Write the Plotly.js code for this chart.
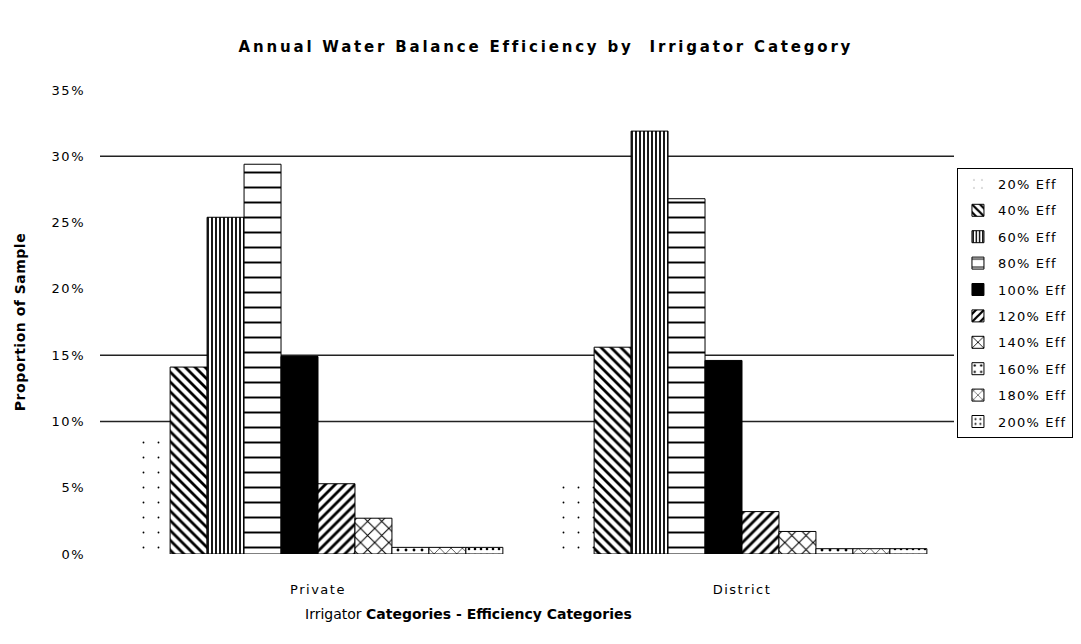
<!DOCTYPE html>
<html>
<head>
<meta charset="utf-8">
<script src="https://cdn.plot.ly/plotly-3.0.1.min.js"></script>
<style>
html,body{margin:0;padding:0;background:#fff;}
#chart{width:1081px;height:644px;}
.xtick text, .ytick text {letter-spacing:1.5px;}
.legendtext {letter-spacing:1.2px;}
.gtitle {letter-spacing:2.8px;}
.ytitle {letter-spacing:0.5px;}
</style>
</head>
<body>
<div id="chart"></div>
<script>
const categories = ["Private", "District"];
const seriesNames = ["20% Eff", "40% Eff", "60% Eff", "80% Eff", "100% Eff", "120% Eff", "140% Eff", "160% Eff", "180% Eff", "200% Eff"];
const eff20  = [0.092, 0.054];
const eff40  = [0.141, 0.156];
const eff60  = [0.254, 0.319];
const eff80  = [0.294, 0.268];
const eff100 = [0.149, 0.146];
const eff120 = [0.053, 0.032];
const eff140 = [0.027, 0.017];
const eff160 = [0.005, 0.004];
const eff180 = [0.005, 0.004];
const eff200 = [0.005, 0.004];
const seriesValues = [eff20, eff40, eff60, eff80, eff100, eff120, eff140, eff160, eff180, eff200];
const yTickVals = [0, 0.05, 0.10, 0.15, 0.20, 0.25, 0.30, 0.35];
const yTickText = ["0%", "5%", "10%", "15%", "20%", "25%", "30%", "35%"];
const gridValues = [0.10, 0.15, 0.30];

const styles = [
  {pattern: {shape: ".", size: 15, solidity: 0.012, fgcolor: "#000", bgcolor: "#fff"}, lw: 0},
  {pattern: {shape: "\\", size: 7, solidity: 0.4, fgcolor: "#000", bgcolor: "#fff"}, lw: 1},
  {pattern: {shape: "|", size: 4, solidity: 0.45, fgcolor: "#000", bgcolor: "#fff"}, lw: 1},
  {pattern: {shape: "-", size: 15, solidity: 0.13, fgcolor: "#000", bgcolor: "#fff"}, lw: 1},
  {pattern: null, color: "#000", lw: 1},
  {pattern: {shape: "/", size: 7, solidity: 0.4, fgcolor: "#000", bgcolor: "#fff"}, lw: 1},
  {pattern: {shape: "x", size: 10, solidity: 0.2, fgcolor: "#000", bgcolor: "#fff"}, lw: 1},
  {pattern: {shape: ".", size: 8, solidity: 0.1, fgcolor: "#000", bgcolor: "#fff"}, lw: 1},
  {pattern: {shape: "x", size: 8, solidity: 0.15, fgcolor: "#000", bgcolor: "#fff"}, lw: 1},
  {pattern: {shape: ".", size: 6, solidity: 0.15, fgcolor: "#000", bgcolor: "#fff"}, lw: 1}
];

const traces = seriesNames.map((name, i) => {
  const s = styles[i];
  const marker = {color: s.color || "#fff", line: {color: "#000", width: s.lw}};
  if (s.pattern) marker.pattern = s.pattern;
  return {
    type: "bar", name: name, x: categories, y: seriesValues[i],
    marker: marker, legendgroup: "g" + i, hoverinfo: "name+y"
  };
});

const fontFam = "DejaVu Sans, Liberation Sans, Arial, sans-serif";
const layout = {
  width: 1081, height: 644,
  paper_bgcolor: "#fff", plot_bgcolor: "#fff",
  margin: {l: 106, r: 127, t: 90, b: 90, autoexpand: false},
  barmode: "group", bargap: 0.128, bargroupgap: 0,
  font: {family: fontFam, size: 13, color: "#000"},
  title: {text: "<b>Annual Water Balance Efficiency by  Irrigator Category</b>", x: 0.505, xref: "container", y: 0.927, yref: "container", yanchor: "middle", font: {size: 15, family: fontFam}},
  xaxis: {showgrid: false, showline: false, zeroline: false, ticks: "", ticklabelstandoff: 26, tickfont: {size: 13}},
  yaxis: {range: [0, 0.35], tickvals: yTickVals, ticktext: yTickText, showgrid: false, zeroline: false, showline: false, ticks: "", ticklabelstandoff: 20, tickfont: {size: 13},
          title: {text: "<b>Proportion of Sample</b>", font: {size: 14}, standoff: 22}},
  showlegend: true,
  legend: {x: 1.0035, xanchor: "left", y: 0.832, yanchor: "top", bordercolor: "#000", borderwidth: 1, bgcolor: "#fff",
           font: {size: 13}, traceorder: "grouped", tracegroupgap: 6.5, itemwidth: 30},
  shapes: gridValues.map(v => ({type: "line", xref: "paper", x0: -6/848, x1: 1, yref: "y", y0: v, y1: v, layer: "below", line: {color: "#222", width: 1.5}})),
  annotations: [{text: "Irrigator <b>Categories - Efficiency Categories</b>", xref: "paper", x: 0.428, yref: "paper", y: -0.13, yanchor: "middle", showarrow: false, font: {size: 14}}]
};

Plotly.newPlot("chart", traces, layout, {displayModeBar: false, staticPlot: true});
</script>
</body>
</html>
